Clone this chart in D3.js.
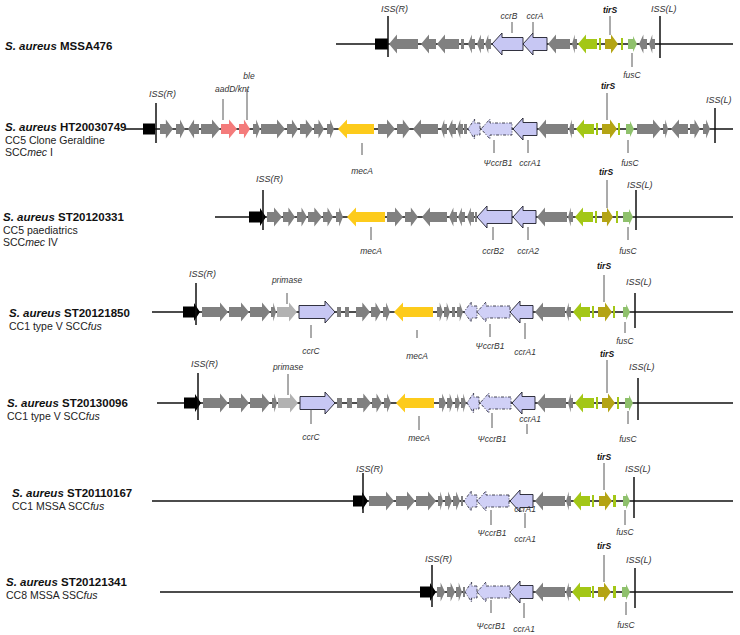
<!DOCTYPE html>
<html><head><meta charset="utf-8">
<script src="https://cdn.jsdelivr.net/npm/d3@7"></script>
<style>
body{margin:0;background:#fff}
svg{display:block}
text{font-family:"Liberation Sans",Arial,sans-serif}
</style>
</head><body>
<svg id="chart" width="740" height="635"></svg>
<script>
// ---------------- DATA ----------------
const strainIds = ["MSSA476","HT20030749","ST20120331","ST20121850","ST20130096","ST20110167","ST20121341"];
const strainNotes = [
  [],
  ["CC5 Clone Geraldine","SCC*mec* I"],
  ["CC5 paediatrics","SCC*mec* IV"],
  ["CC1 type V SCC*fus*"],
  ["CC1 type V SCC*fus*"],
  ["CC1 MSSA SCC*fus*"],
  ["CC8 MSSA SSC*fus*"]
];
// chromosome backbone extent per strain (map units)
const backboneStart = [336,125,215,152,157,152,160];
const backboneEnd   = [733,733,733,733,733,733,733];
const issRPos = [388,156,263,196,198,363,432];
const issLPos = [660,715,636,635,638,634,635];

// genes: [start, end, strand, kind]
// kinds: k black, g gray ORF, p resistance (aadD/knt, ble), y mecA, r primase,
// c ccr, d pseudo-ccr, v / s green ORFs, t tirS, f fusC
const genesMSSA476 = [
  [375,388,0,"k"],[389,418,-1,"g"],[421,436,-1,"g"],[437,459,-1,"g"],[461,464,0,"g"],
  [468,475,-1,"g"],[477,484,-1,"g"],[485,491,-1,"g"],[492,523,-1,"c"],[523,547,-1,"c"],
  [548,570,-1,"g"],[572,577,-1,"g"],[578,597,-1,"v"],[599,601,0,"s"],[605,618,1,"t"],
  [621,623,0,"s"],[628,637,1,"f"],[639,647,-1,"g"],[649,655,-1,"g"]
];
const genesHT20030749 = [
  [143,155,0,"k"],[160,173,1,"g"],[176,185,1,"g"],[188,199,-1,"g"],[201,220,1,"g"],
  [221,237,1,"p"],[239,250,1,"p"],[253,260,1,"g"],[261,285,1,"g"],[287,298,1,"g"],
  [300,313,1,"g"],[314,324,1,"g"],[327,334,1,"g"],[338,374,-1,"y"],[378,395,1,"g"],
  [397,410,1,"g"],[413,438,-1,"g"],[441,447,-1,"g"],[448,456,-1,"g"],[457,463,-1,"g"],
  [464,467,0,"g"],[468,480,-1,"d"],[481,512,-1,"d"],[513,537,-1,"c"],[538,568,-1,"g"],
  [569,574,-1,"g"],[576,594,-1,"v"],[596,598,0,"s"],[602,617,1,"t"],[618,620,0,"s"],
  [626,634,1,"f"],[637,661,1,"g"],[663,668,1,"g"],[671,688,-1,"g"],[690,700,1,"g"],[703,710,1,"g"]
];
const genesST20120331 = [
  [249,266,1,"k"],[267,282,1,"g"],[283,295,1,"g"],[297,307,1,"g"],[308,322,1,"g"],
  [323,333,1,"g"],[336,343,1,"g"],[347,385,-1,"y"],[387,403,1,"g"],[405,418,1,"g"],
  [422,447,-1,"g"],[449,457,-1,"g"],[458,465,-1,"g"],[467,474,-1,"g"],[475,477,0,"g"],
  [477,512,-1,"c"],[513,536,-1,"c"],[537,567,-1,"g"],[568,573,-1,"g"],[575,593,-1,"v"],
  [595,597,0,"s"],[602,613,1,"t"],[616,618,0,"s"],[623,633,1,"f"]
];
const genesST20121850 = [
  [183,200,1,"k"],[202,228,1,"g"],[229,249,1,"g"],[250,270,1,"g"],[271,276,1,"g"],
  [277,297,1,"r"],[299,335,1,"c"],[337,341,0,"g"],[345,349,0,"g"],[356,370,1,"g"],
  [371,381,1,"g"],[383,390,1,"g"],[394,433,-1,"y"],[437,443,1,"g"],[444,450,1,"g"],
  [452,455,0,"g"],[457,463,1,"g"],[464,477,-1,"d"],[477,510,-1,"d"],[510,533,-1,"c"],
  [535,565,-1,"g"],[566,571,-1,"g"],[573,590,-1,"v"],[592,594,0,"s"],[598,612,1,"t"],
  [613,615,0,"s"],[623,630,1,"f"]
];
const genesST20130096 = [
  [184,201,1,"k"],[203,228,1,"g"],[229,249,1,"g"],[250,270,1,"g"],[272,277,1,"g"],
  [278,298,1,"r"],[300,335,1,"c"],[337,342,0,"g"],[347,352,0,"g"],[357,371,1,"g"],
  [372,382,1,"g"],[384,391,1,"g"],[396,434,-1,"y"],[439,446,1,"g"],[447,453,1,"g"],
  [455,460,1,"g"],[461,466,1,"g"],[467,479,-1,"d"],[480,511,-1,"d"],[512,535,-1,"c"],
  [537,566,-1,"g"],[568,573,-1,"g"],[575,594,-1,"v"],[596,598,0,"s"],[602,615,1,"t"],
  [617,619,0,"s"],[625,633,1,"f"]
];
const genesST20110167 = [
  [353,368,1,"k"],[369,394,1,"g"],[396,415,1,"g"],[416,436,1,"g"],[438,443,1,"g"],
  [445,452,1,"g"],[453,460,1,"g"],[461,463,0,"g"],[464,477,-1,"d"],[477,509,-1,"d"],
  [510,533,-1,"c"],[535,565,-1,"g"],[566,571,-1,"g"],[573,590,-1,"v"],[592,594,0,"s"],
  [599,612,1,"t"],[613,616,0,"s"],[623,630,1,"f"]
];
const genesST20121341 = [
  [420,436,1,"k"],[437,445,1,"g"],[447,455,1,"g"],[456,462,1,"g"],[463,465,0,"g"],
  [465,477,-1,"d"],[477,510,-1,"d"],[510,533,-1,"c"],[535,565,-1,"g"],[566,571,-1,"g"],
  [572,591,-1,"v"],[592,594,0,"s"],[598,611,1,"t"],[613,616,0,"s"],[622,630,1,"f"]
];
const genesByStrain = [genesMSSA476,genesHT20030749,genesST20120331,genesST20121850,
                       genesST20130096,genesST20110167,genesST20121341];

// gene name annotations: [name, gene position (map units)]
const namesMSSA476 = [["ccrB",512],["ccrA",533],["tirS",610],["fusC",632]];
const namesHT20030749 = [["aadD/knt",223],["ble",247],["mecA",362],["\u03A8ccrB1",494],["ccrA1",528],["tirS",607],["fusC",628]];
const namesST20120331 = [["mecA",371],["ccrB2",493],["ccrA2",528],["tirS",607],["fusC",628]];
const namesST20121850 = [["primase",287],["ccrC",311],["mecA",417],["\u03A8ccrB1",490],["ccrA1",525],["tirS",604],["fusC",625]];
const namesST20130096 = [["primase",288],["ccrC",311],["mecA",419],["\u03A8ccrB1",492],["ccrA1",527],["tirS",607],["fusC",628]];
const namesST20110167 = [["\u03A8ccrB1",491],["ccrA1",525],["ccrA1",525],["tirS",604],["fusC",625]];
const namesST20121341 = [["\u03A8ccrB1",491],["ccrA1",524],["tirS",604],["fusC",626]];
const namesByStrain = [namesMSSA476,namesHT20030749,namesST20120331,namesST20121850,
                       namesST20130096,namesST20110167,namesST20121341];

// ---------------- LAYOUT (styling / placement only) ----------------
const trackY = [44,129,217,312,403,501,592];
const titleX = [5,5,3,9,7,12,6];
const titleDy = [6,2,4,5,4,-4,-6];
// per-annotation placement: [textDx, textDy, lineTop, lineBottom]
const annLayout = [
  [[-3,-25,-22,-11],[2,-25,-22,-11],[0,-31,-28,-9],[0,34,9,23]],
  [[9,-37,-30,-9],[2,-50,-40,-9],[0,45,14,26],[4,37,11,24],[2,37,11,24],[1,-40,-36,-9],[2,37,11,24]],
  [[0,37,10,23],[0,37,10,23],[0,37,10,23],[-1,-42,-37,-9],[0,37,10,23]],
  [[0,-29,-19,-8],[0,42,13,26],[0,47,18,26],[0,37,12,25],[0,43,11,27],[0,-43,-37,-10],[0,32,10,21]],
  [[0,-33,-29,-8],[0,37,6,21],[0,38,13,27],[0,39,10,25],[3,19,21,31],[0,-46,-43,-10],[0,39,8,21]],
  [[1,35,9,24],[0,11,12,27],[0,41,0,0],[0,-41,-38,-11],[0,34,9,24]],
  [[0,37,8,21],[0,40,11,26],[0,-43,-37,-10],[0,36,10,23]]
];
// ISS marks: [lineTop, lineBottom, labelDy] for R and L
const issRLayout = [[-28,13,-32],[-26,14,-32],[-27,13,-35],[-29,13,-35],[-30,17,-36],[-28,12,-29],[-27,15,-30]];
const issLLayout = [[-28,14,-32],[-21,14,-26],[-27,13,-29],[-19,16,-27],[-25,17,-33],[-24,17,-29],[-24,16,-29]];

const KIND = {
  k:{fill:"#000000", b:11, h:18, hl:6},
  g:{fill:"#808080", b:10, h:19, hl:8},
  p:{fill:"#f47b7b", b:10, h:19, hl:8},
  y:{fill:"#fdcb1b", b:10, h:19, hl:9},
  r:{fill:"#b2b2b2", b:10, h:19, hl:8},
  c:{fill:"#c7c7f3", stroke:"#1e1e2a", b:13, h:22, hl:10},
  d:{fill:"#d0d0f6", stroke:"#333344", dash:"3,1.5,1,1.5", b:12, h:20, hl:9},
  v:{fill:"#a3c716", b:10, h:19, hl:8},
  s:{fill:"#a3c716", b:12, h:12, hl:0},
  t:{fill:"#b4a414", b:10, h:19, hl:7},
  f:{fill:"#8fc16c", b:10, h:16, hl:4}
};

// ---------------- DRAW ----------------
const svg = d3.select("#chart");
const x = d3.scaleLinear().domain([0,740]).range([0,740]);

function genePath(x0, x1, strand, y, st) {
  const w = x1 - x0, b = st.b/2, h = st.h/2;
  if (strand === 0 || w < 3 || st.hl === 0) {
    return `M${x0},${y-b}H${x1}V${y+b}H${x0}Z`;
  }
  const L = Math.min(st.hl, w*0.55);
  if (strand > 0) {
    const xh = x1 - L;
    return `M${x0},${y-b}H${xh}V${y-h}L${x1},${y}L${xh},${y+h}V${y+b}H${x0}Z`;
  } else {
    const xh = x0 + L;
    return `M${x1},${y-b}H${xh}V${y-h}L${x0},${y}L${xh},${y+h}V${y+b}H${x1}Z`;
  }
}

function addRich(sel, str) {
  str.split("*").forEach((part, i) => {
    if (!part) return;
    const ts = sel.append("tspan").text(part);
    if (i % 2 === 1) ts.attr("font-style","italic");
  });
}

strainIds.forEach((id, i) => {
  const y = trackY[i];
  const g = svg.append("g");

  // backbone
  g.append("line").attr("x1", x(backboneStart[i])).attr("x2", x(backboneEnd[i]))
    .attr("y1", y).attr("y2", y).attr("stroke", "#111").attr("stroke-width", 1.5);

  // genes
  g.selectAll("path.gene").data(genesByStrain[i]).join("path")
    .attr("class","gene")
    .attr("d", d => genePath(x(d[0]), x(d[1]), d[2], y, KIND[d[3]]))
    .attr("fill", d => KIND[d[3]].fill)
    .attr("stroke", d => KIND[d[3]].stroke || "none")
    .attr("stroke-width", d => KIND[d[3]].stroke ? 0.9 : 0)
    .attr("stroke-dasharray", d => KIND[d[3]].dash || null);

  // ISS boundaries
  [[issRPos[i], issRLayout[i], "ISS(R)", -7], [issLPos[i], issLLayout[i], "ISS(L)", -9]].forEach(([pos, lay, lab, dx]) => {
    g.append("line").attr("x1", x(pos)).attr("x2", x(pos))
      .attr("y1", y + lay[0]).attr("y2", y + lay[1])
      .attr("stroke", "#111").attr("stroke-width", 1.5);
    g.append("text").attr("x", x(pos) + dx).attr("y", y + lay[2])
      .attr("font-size", 9).attr("font-style","italic").attr("fill","#333").text(lab);
  });

  // gene name annotations
  namesByStrain[i].forEach((n, j) => {
    const lay = annLayout[i][j];
    if (lay[2] !== lay[3]) {
      g.append("line").attr("x1", x(n[1])).attr("x2", x(n[1]))
        .attr("y1", y + lay[2]).attr("y2", y + lay[3])
        .attr("stroke", "#444").attr("stroke-width", 0.9);
    }
    const bold = n[0] === "tirS";
    g.append("text").attr("x", x(n[1]) + lay[0]).attr("y", y + lay[1])
      .attr("text-anchor","middle").attr("font-size", 8.5)
      .attr("font-style","italic").attr("font-weight", bold ? "bold" : "normal")
      .attr("fill", bold ? "#111" : "#333").text(n[0]);
  });

  // strain title
  const t = g.append("text").attr("x", titleX[i]).attr("y", y + titleDy[i])
    .attr("font-size", 11.5).attr("font-weight","bold").attr("fill","#111");
  t.append("tspan").attr("font-style","italic").text("S. aureus ");
  t.append("tspan").text(id);
  strainNotes[i].forEach((note, k) => {
    const nt = g.append("text").attr("x", titleX[i]).attr("y", y + titleDy[i] + 12.5*(k+1))
      .attr("font-size", 10.5).attr("fill","#222");
    addRich(nt, note);
  });
});
</script>
</body></html>
